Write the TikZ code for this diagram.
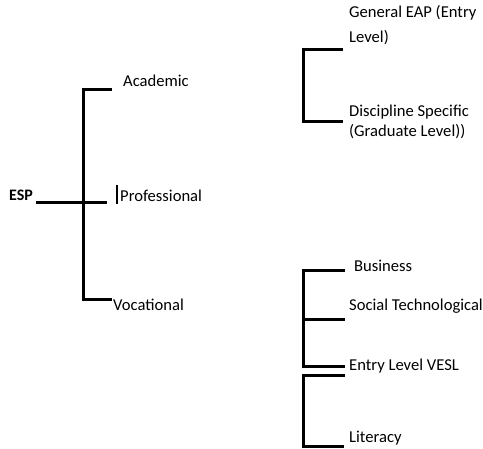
\documentclass[tikz,border=0pt]{standalone}
\usepackage{fontspec}
\setmainfont{Carlito}
\tikzset{
  bar/.style={line width=3pt},
  lbl/.style={anchor=base west, inner sep=0pt, align=left, font=\fontsize{16.6}{20}\selectfont},
}
\begin{document}
\begin{tikzpicture}[x=1pt,y=-1pt]
	\useasboundingbox (0,0) rectangle (483,449);
	% linker Baum
	\node[lbl,font=\bfseries\fontsize{16}{19.5}\selectfont] (esp) at (9,201) {ESP};
	\node[lbl] (academic) at (123,87) {Academic};
	\node[lbl] (professional) at (120,202) {Professional};
	\node[lbl] (vocational) at (113,311) {Vocational};
	\coordinate (espL) at (36,203);
	\coordinate (espR) at (107,203);
	\coordinate (lTop) at (83,90);
	\coordinate (lBot) at (83,300);
	\coordinate (acadT) at (112,90);
	\coordinate (vocT) at (112,300);
	\coordinate (profA) at (117,185);
	\coordinate (profB) at (117,204);
	\draw[bar] (espL) -- (espR);
	\draw[bar] (acadT) -- (lTop) -- (lBot) -- (vocT);
	\draw[line width=1.4pt] (profA) -- (profB);
	% rechts oben (Grundlinie der letzten Zeile)
	\node[lbl] (general) at (349,43) {General EAP (Entry\\[5pt]Level)};
	\node[lbl] (discipline) at (349,137) {Discipline Specific\\(Graduate Level))};
	\coordinate (aTop) at (303,50);
	\coordinate (aBot) at (303,122);
	\coordinate (genT) at (343,50);
	\coordinate (disT) at (343,122);
	\draw[bar] (genT) -- (aTop) -- (aBot) -- (disT);
	% rechts unten
	\node[lbl] (business) at (354,272) {Business};
	\node[lbl] (social) at (349,311) {Social Technological};
	\node[lbl] (vesl) at (349,371) {Entry Level VESL};
	\node[lbl] (literacy) at (349,443) {Literacy};
	\coordinate (vTop) at (303,271);
	\coordinate (vMid) at (303,320);
	\coordinate (vBot) at (303,367);
	\coordinate (busT) at (345,271);
	\coordinate (socT) at (345,320);
	\coordinate (veslT) at (345,367);
	\draw[bar] (busT) -- (vTop) -- (vBot) -- (veslT);
	\draw[bar] (vMid) -- (socT);
	\coordinate (wTop) at (303,376);
	\coordinate (wBot) at (303,447);
	\coordinate (wT) at (345,376);
	\coordinate (litT) at (344,447);
	\draw[bar] (wT) -- (wTop) -- (wBot) -- (litT);
\end{tikzpicture}
\end{document}
